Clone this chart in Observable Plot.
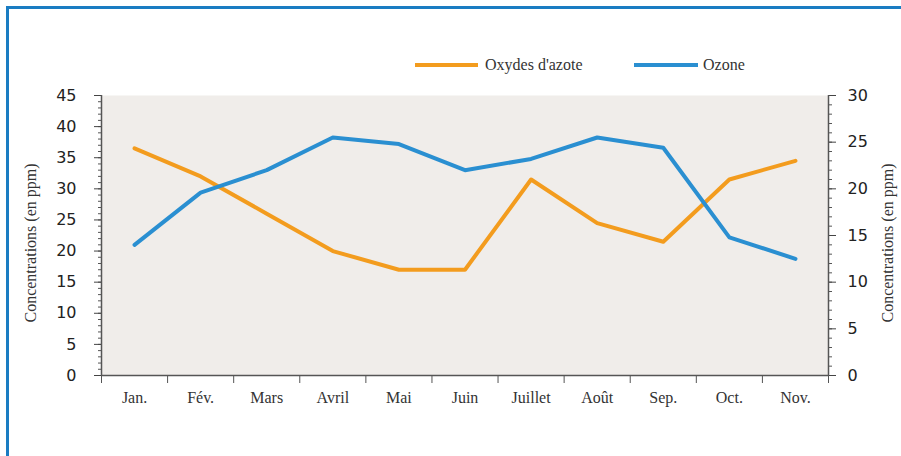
<!DOCTYPE html>
<html>
<head>
<meta charset="utf-8">
<script src="https://cdn.jsdelivr.net/npm/d3@7"></script>
<script src="https://cdn.jsdelivr.net/npm/@observablehq/plot@0.6"></script>
<style>
  body { margin: 0; background: #fff; }
  #wrap { position: relative; width: 901px; height: 456px; overflow: hidden; }
  #border { position: absolute; left: 6px; top: 6px; width: 920px; height: 470px;
            border-left: 3px solid #1a7cc2; border-top: 3px solid #1a7cc2; }
  #chart { position: absolute; left: 0; top: 0; }
  .leg { position: absolute; font-family: "Liberation Serif", serif; font-size: 16px; color: #333; line-height: 1; }
  .sw { position: absolute; height: 4px; }
  .ttl { position: absolute; font-family: "Liberation Serif", serif; font-size: 16px; color: #333;
         white-space: nowrap; transform: translate(-50%, -50%) rotate(-90deg); }
</style>
</head>
<body>
<div id="wrap">
  <div id="border"></div>
  <div id="chart"></div>
  <div class="sw" id="swNox" style="left:415px; top:63px; width:63px;"></div>
  <div class="leg" id="legNox" style="left:485px; top:57px;"></div>
  <div class="sw" id="swOz" style="left:634px; top:63px; width:64px;"></div>
  <div class="leg" id="legOz" style="left:703px; top:57px;"></div>
  <div class="ttl" id="ttlL" style="left:31px; top:243px;"></div>
  <div class="ttl" id="ttlR" style="left:888px; top:243px;"></div>
</div>
<script>
// ---- data ----
const months = ["Jan.", "Fév.", "Mars", "Avril", "Mai", "Juin", "Juillet", "Août", "Sep.", "Oct.", "Nov."];
const oxydes = [36.5, 32, 26, 20, 17, 17, 31.5, 24.5, 21.5, 31.5, 34.5];
const ozone  = [14, 19.6, 22, 25.5, 24.8, 22, 23.2, 25.5, 24.4, 14.8, 12.5];
const leftTicks  = [0, 5, 10, 15, 20, 25, 30, 35, 40, 45];
const rightTicks = [0, 5, 10, 15, 20, 25, 30];
const seriesNames = ["Oxydes d'azote", "Ozone"];
const axisTitle = "Concentrations (en ppm)";

// ---- style ----
const cNox = "#f39c1e", cOz = "#2a8fd1";
const ratio = 45 / 30;

document.getElementById("swNox").style.background = cNox;
document.getElementById("swOz").style.background = cOz;
document.getElementById("legNox").textContent = seriesNames[0];
document.getElementById("legOz").textContent = seriesNames[1];
document.getElementById("ttlL").textContent = axisTitle;
document.getElementById("ttlR").textContent = axisTitle;

const noxData = oxydes.map((v, i) => ({i, v}));
const ozData = ozone.map((v, i) => ({i, v}));
const n = months.length;
const numFont = {fontFamily: "DejaVu Sans", fontSize: 16};

const chart = Plot.plot({
  width: 901, height: 456,
  marginLeft: 101, marginRight: 73, marginTop: 95, marginBottom: 81,
  style: {background: "transparent", color: "#222"},
  x: {type: "linear", domain: [0, n]},
  y: {domain: [0, 45]},
  marks: [
    Plot.frame({fill: "#f0edea", stroke: null}),
    // left axis
    Plot.axisY(d3.range(0, 46, 1), {anchor: "left", tickSize: 3, tickFormat: () => "", label: null, stroke: "#555"}),
    Plot.axisY(leftTicks, {anchor: "left", tickSize: 7, tickPadding: 18, label: null, stroke: "#444", ...numFont}),
    // right axis (ozone scale mapped onto left scale)
    Plot.axisY(d3.range(0, 31, 1).map(d => d * ratio), {anchor: "right", tickSize: 3, tickFormat: () => "", label: null, stroke: "#555"}),
    Plot.axisY(rightTicks.map(d => d * ratio), {anchor: "right", tickSize: 7, tickPadding: 12, label: null,
      tickFormat: d => String(Math.round(d / ratio)), stroke: "#444", ...numFont}),
    // x axis: ticks at band edges, labels at centers
    Plot.axisX(d3.range(0, n + 1), {tickSize: 8, tickFormat: () => "", label: null, stroke: "#555"}),
    Plot.axisX(d3.range(n).map(i => i + 0.5), {tickSize: 0, tickPadding: 16, label: null,
      tickFormat: d => months[Math.floor(d)], fontFamily: "Liberation Serif", fontSize: 16, fill: "#333"}),
    Plot.ruleY([0], {stroke: "#555", strokeWidth: 1.5}),
    Plot.ruleX([0, n], {stroke: "#555", strokeWidth: 1.5}),
    // series
    Plot.line(noxData, {x: d => d.i + 0.5, y: "v", stroke: cNox, strokeWidth: 4}),
    Plot.line(ozData, {x: d => d.i + 0.5, y: d => d.v * ratio, stroke: cOz, strokeWidth: 4})
  ]
});
document.getElementById("chart").appendChild(chart);
</script>
</body>
</html>
